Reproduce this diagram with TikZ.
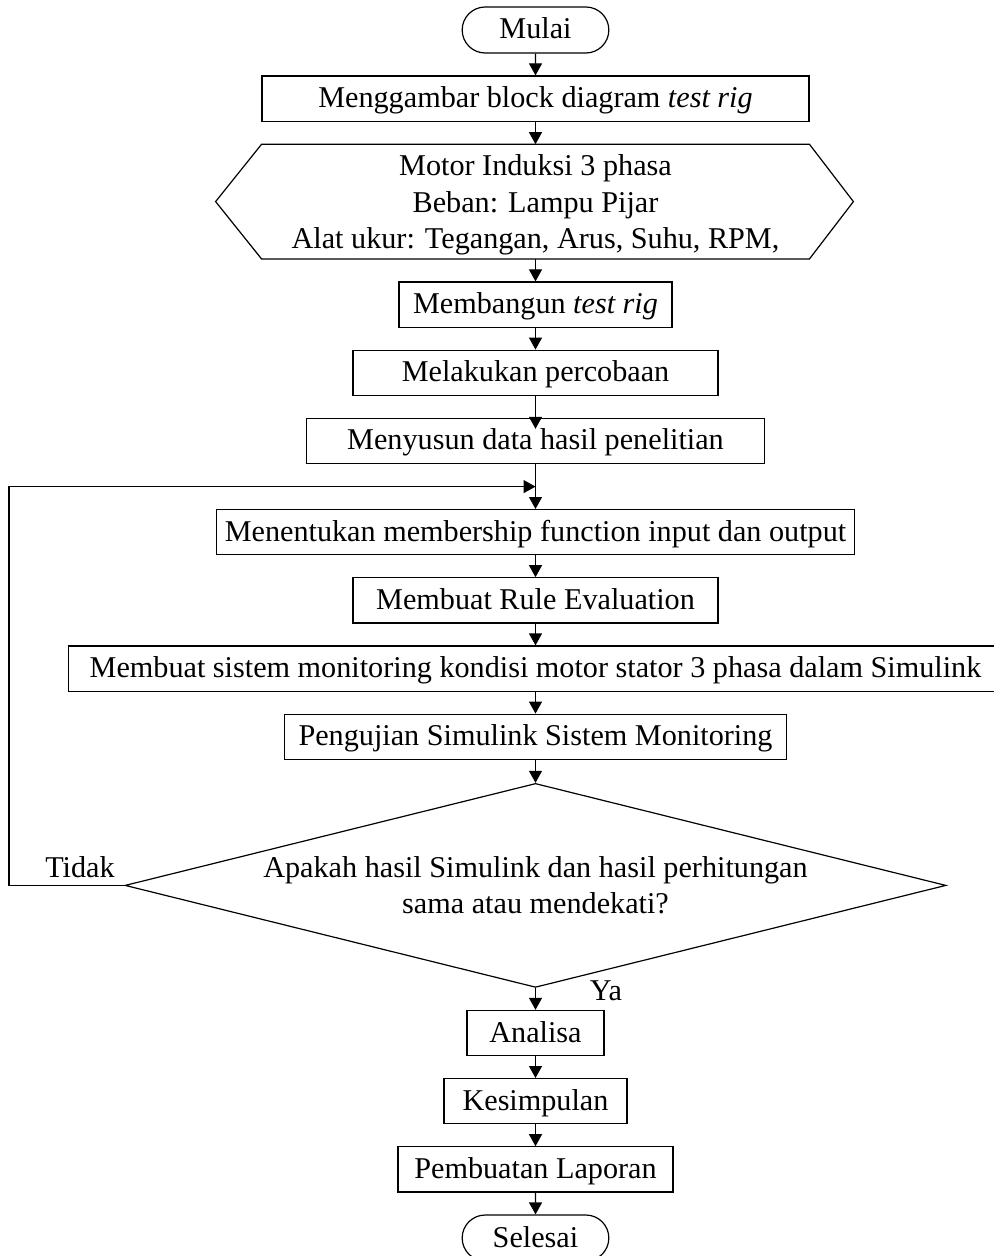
\documentclass[tikz,border=0pt]{standalone}
\usepackage{fontspec}
\setmainfont{Liberation Serif}
\usetikzlibrary{shapes.misc, positioning}
\usetikzlibrary{shapes.geometric, arrows.meta, calc}
\newcommand\flowfont{\fontsize{15.1}{18.3}\selectfont}
\tikzstyle{startstop} = [rounded rectangle, minimum width=80pt, minimum height=23pt, text height=10pt, text depth=1pt, text centered, draw=black, line width=0.6pt, font=\flowfont]
\tikzstyle{process} = [rectangle, minimum height=22.6pt, inner sep=0pt, text height=10pt, text depth=1pt, text centered, draw=black, line width=0.6pt, font=\flowfont]
\tikzstyle{io} = [rectangle, minimum width=273.5pt, minimum height=57pt, inner sep=0pt, text depth=0pt, align=center, font=\flowfont]
\tikzstyle{decision} = [diamond, aspect=4, minimum width=410.5pt, minimum height=102pt, inner sep=0pt, align=center, draw=black, line width=0.6pt, font=\flowfont]
\tikzstyle{arrow} = [line width=0.6pt, ->, >={Triangle[length=6pt,width=6.5pt]}]
\tikzstyle{answer} = [anchor=base, font=\flowfont]

\begin{document}
\begin{tikzpicture}[x=0.5pt, y=-0.5pt, node distance=10.9pt]
    \useasboundingbox (0,0) rectangle (993,1256);

    \node (start) [startstop] at (535.5,30) {Mulai};

    \node (proc1) [process, minimum width=273.5pt, below=of start] {Menggambar block diagram \textit{test rig}};

    \node (data) [io, below=11.2pt of proc1] {Motor Induksi 3 phasa\\
    Beban: Lampu Pijar\\
    Alat ukur: Tegangan, Arus, Suhu, RPM,};
    \draw [line width=0.6pt] ([xshift=-23pt]data.west) -- (data.north west) -- (data.north east) -- ([xshift=22pt]data.east) -- (data.south east) -- (data.south west) -- cycle;

    \node (proc3) [process, minimum width=136.5pt, below=11.2pt of data] {Membangun \textit{test rig}};

    \node (proc4) [process, minimum width=182.5pt, below=of proc3] {Melakukan percobaan};

    \node (proc5) [process, minimum width=229pt, below=of proc4] {Menyusun data hasil penelitian};

    \node (proc6) [process, minimum width=319pt, below=22.4pt of proc5] {Menentukan membership function input dan output};

    \node (proc7) [process, minimum width=182.5pt, below=of proc6] {Membuat Rule Evaluation};

    \node (proc8) [process, minimum width=467pt, below=of proc7] {Membuat sistem monitoring kondisi motor stator 3 phasa dalam Simulink};

    \node (proc9) [process, minimum width=251pt, below=of proc8] {Pengujian Simulink Sistem Monitoring};

    \node (dec) [decision, below=11.4pt of proc9] {Apakah hasil Simulink dan hasil perhitungan\\
    sama atau mendekati?};

    \node (proc10) [process, minimum width=68.5pt, below=of dec] {Analisa};

    \node (proc11) [process, minimum width=91.5pt, below=of proc10] {Kesimpulan};

    \node (proc12) [process, minimum width=137.5pt, below=of proc11] {Pembuatan Laporan};

    \node (stop) [startstop, below=of proc12] {Selesai};

    \node (tidak) [answer] at (80,877) {Tidak};
    \node (ya) [answer] at (606,1000) {Ya};

    \coordinate (loop) at ($(proc5.south)!0.5!(proc6.north)$);
    \coordinate (lft) at (9,0);

    \draw [arrow] (start) -- (proc1);
    \draw [arrow] (proc1) -- (data);
    \draw [arrow] (data) -- (proc3);
    \draw [arrow] (proc3) -- (proc4);
    \draw [arrow, shorten >=-5.5pt] (proc4) -- (proc5);
    \draw [arrow] (proc5) -- (proc6);
    \draw [arrow] (proc6) -- (proc7);
    \draw [arrow] (proc7) -- (proc8);
    \draw [arrow] (proc8) -- (proc9);
    \draw [arrow] (proc9) -- (dec);
    \draw [arrow] (dec) -- (proc10);
    \draw [arrow] (proc10) -- (proc11);
    \draw [arrow] (proc11) -- (proc12);
    \draw [arrow] (proc12) -- (stop);
    \draw [arrow] (dec.west) -- (dec.west -| lft) |- (loop);

\end{tikzpicture}
\end{document}
